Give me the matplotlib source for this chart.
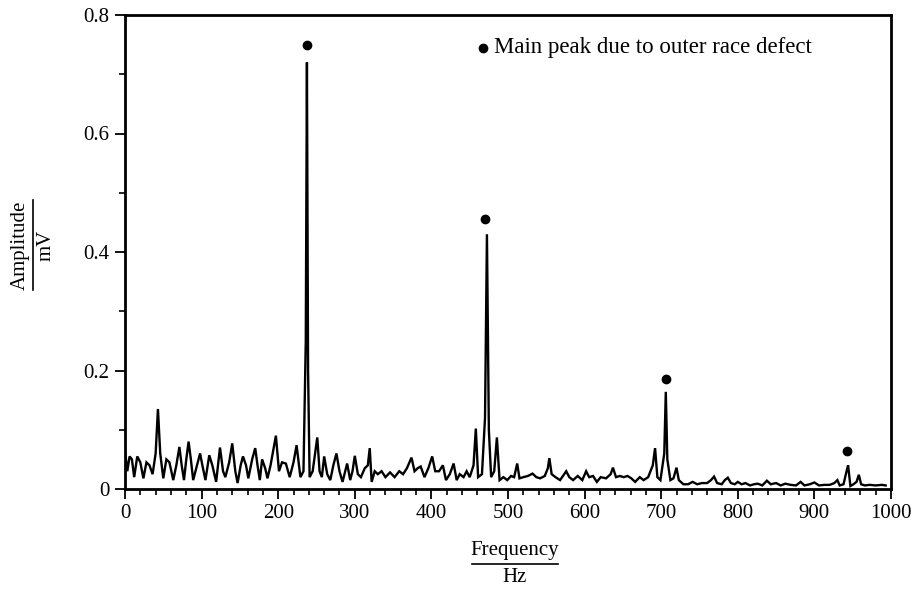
import matplotlib
matplotlib.use("Agg")
import matplotlib.pyplot as plt
from matplotlib.lines import Line2D
from matplotlib.ticker import MultipleLocator

plt.rcParams['font.family'] = ['Liberation Serif', 'DejaVu Serif']

# Spectrum trace (Hz, mV)
freq_hz = [0, 3, 6, 9, 12, 16, 20, 24, 28, 32, 36, 40, 43, 46, 50, 54, 58, 63, 67, 71,
           74, 77, 80, 83, 86, 89, 94, 98, 101, 105, 110, 114, 119, 124, 128, 131, 136, 140,
           144, 147, 151, 154, 158, 161, 166, 170, 173, 176, 179, 183, 186, 190, 197, 201,
           205, 210, 215, 220, 224, 229, 233, 236, 237.5, 239, 241, 245, 251, 254, 257, 260,
           264, 268, 272, 276, 280, 284, 290, 294, 297, 300, 304, 308, 313, 317, 319.5, 322,
           326, 330, 335, 340, 346, 352, 358, 363, 368, 374, 378, 382, 386, 391, 396, 401,
           405, 410, 415, 419, 424, 429, 433, 437, 442, 446, 450, 455, 458, 461, 466, 470,
           472.5, 475, 478, 482, 485.5, 489, 494, 499, 504, 508, 512, 515, 520, 526, 532,
           537, 542, 548, 552, 554, 557, 562, 568, 576, 580, 585, 591, 597, 602, 606, 611,
           616, 621, 628, 634, 637, 641, 646, 651, 656, 661, 666, 672, 677, 683, 689, 692,
           695, 699, 704, 706, 708, 712, 716, 720, 723, 729, 735, 741, 747, 753, 760, 765,
           769, 773, 779, 783, 787, 791, 796, 800, 805, 810, 816, 821, 826, 832, 838, 843,
           850, 856, 862, 869, 876, 882, 887, 894, 900, 906, 913, 920, 926, 930, 933, 938,
           942, 944, 947, 951, 955, 958, 961, 966, 972, 980, 988, 993]
amp_mv = [0.065, 0.03, 0.055, 0.05, 0.02, 0.055, 0.045, 0.018, 0.045, 0.04, 0.025, 0.06, 0.135,
          0.06, 0.018, 0.05, 0.045, 0.015, 0.04, 0.071, 0.04, 0.015, 0.05, 0.08, 0.05, 0.015,
          0.04, 0.06, 0.04, 0.015, 0.057, 0.04, 0.012, 0.07, 0.03, 0.02, 0.045, 0.077, 0.03,
          0.01, 0.04, 0.055, 0.04, 0.018, 0.05, 0.069, 0.04, 0.015, 0.05, 0.035, 0.018, 0.04,
          0.09, 0.03, 0.045, 0.043, 0.02, 0.045, 0.074, 0.02, 0.03, 0.25, 0.72, 0.2, 0.02,
          0.03, 0.087, 0.03, 0.02, 0.055, 0.025, 0.015, 0.04, 0.06, 0.03, 0.012, 0.043, 0.015,
          0.03, 0.056, 0.025, 0.02, 0.035, 0.04, 0.069, 0.012, 0.03, 0.025, 0.03, 0.02, 0.028,
          0.02, 0.03, 0.025, 0.035, 0.053, 0.03, 0.035, 0.038, 0.02, 0.035, 0.055, 0.03, 0.03,
          0.04, 0.015, 0.025, 0.043, 0.015, 0.025, 0.02, 0.03, 0.02, 0.04, 0.102, 0.02, 0.025,
          0.12, 0.43, 0.1, 0.02, 0.03, 0.087, 0.015, 0.02, 0.015, 0.022, 0.02, 0.043, 0.018,
          0.02, 0.022, 0.026, 0.02, 0.018, 0.022, 0.035, 0.052, 0.025, 0.02, 0.015, 0.03,
          0.02, 0.015, 0.022, 0.015, 0.03, 0.02, 0.022, 0.012, 0.02, 0.018, 0.025, 0.036,
          0.02, 0.022, 0.02, 0.022, 0.018, 0.012, 0.02, 0.015, 0.02, 0.04, 0.069, 0.02, 0.015,
          0.06, 0.164, 0.05, 0.015, 0.018, 0.036, 0.015, 0.008, 0.008, 0.012, 0.008, 0.01,
          0.01, 0.015, 0.021, 0.01, 0.008, 0.015, 0.019, 0.01, 0.008, 0.012, 0.008, 0.01,
          0.006, 0.008, 0.009, 0.006, 0.014, 0.008, 0.01, 0.006, 0.009, 0.007, 0.006, 0.012,
          0.006, 0.008, 0.011, 0.006, 0.007, 0.007, 0.01, 0.015, 0.006, 0.008, 0.03, 0.04,
          0.005, 0.008, 0.012, 0.024, 0.008, 0.006, 0.007, 0.006, 0.007, 0.006]

# Marked main peaks (outer race defect)
peak_hz = [238, 470, 706, 943]
peak_mv = [0.75, 0.456, 0.186, 0.064]

legend_text = "Main peak due to outer race defect"

fig = plt.figure(figsize=(9.17, 5.92), dpi=100)
ax = fig.add_axes([125 / 917, 1 - 489 / 592, (891 - 125) / 917, (489 - 15) / 592])

ax.plot(freq_hz, amp_mv, color='black', lw=1.7, solid_joinstyle='miter')
ax.plot(peak_hz, peak_mv, 'o', color='black', ms=6)

ax.set_xlim(0, 1000)
ax.set_ylim(0, 0.8)
ax.xaxis.set_major_locator(MultipleLocator(100))
ax.xaxis.set_minor_locator(MultipleLocator(20))
ax.set_yticks([0, 0.2, 0.4, 0.6, 0.8])
ax.set_yticklabels(['0', '0.2', '0.4', '0.6', '0.8'])
ax.yaxis.set_minor_locator(MultipleLocator(0.1))
ax.tick_params(axis='both', which='major', direction='out', length=7, width=1.3,
               labelsize=15, pad=4)
ax.tick_params(axis='both', which='minor', direction='out', length=4, width=1.2)
for s in ax.spines.values():
    s.set_linewidth(2)

# Legend
ax.plot([468], [0.745], 'o', color='black', ms=6)
ax.text(482, 0.745, legend_text, fontsize=16.5, va='center', ha='left')

# Axis labels as fractions
fig.text(20 / 917, 1 - 245 / 592, 'Amplitude', rotation=90, fontsize=15,
         ha='center', va='center')
fig.text(46 / 917, 1 - 245 / 592, 'mV', rotation=90, fontsize=15,
         ha='center', va='center')
fig.add_artist(Line2D([33 / 917, 33 / 917], [1 - 200 / 592, 1 - 290 / 592],
                      color='black', lw=1.2, transform=fig.transFigure))

fig.text(515 / 917, 1 - 551 / 592, 'Frequency', fontsize=15, ha='center', va='center')
fig.text(515 / 917, 1 - 578 / 592, 'Hz', fontsize=15, ha='center', va='center')
fig.add_artist(Line2D([472 / 917, 558 / 917], [1 - 564 / 592, 1 - 564 / 592],
                      color='black', lw=1.2, transform=fig.transFigure))

fig.savefig('out.png', dpi=100)
